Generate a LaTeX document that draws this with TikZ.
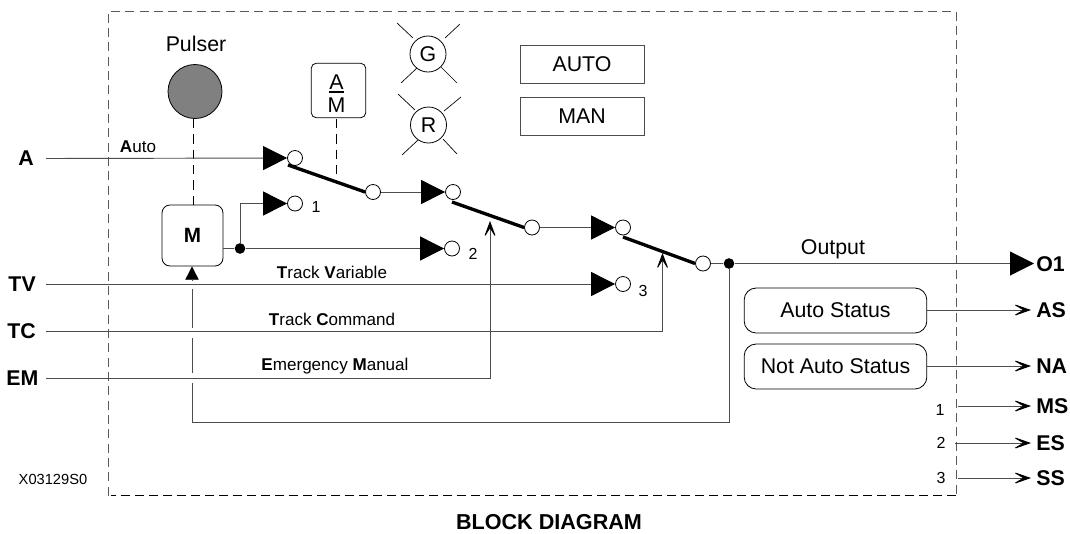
\documentclass[tikz,border=0pt]{standalone}
\usepackage{fontspec}
\setmainfont{Liberation Sans}
\usetikzlibrary{arrows.meta}
\newcommand{\fs}[1]{\fontsize{#1}{#1}\selectfont}
\definecolor{ln}{gray}{0.3}
\tikzset{
  wire/.style={draw=ln,line width=0.7pt},
  solid tri/.style={-{Triangle[length=18pt,width=18pt,color=black]}},
  barb/.style={-{Stealth[length=14pt,width=10.5pt,inset=8.5pt,color=black]}},
  contact/.style={circle,draw=black,fill=white,line width=0.6pt,minimum size=11.25pt,inner sep=0pt},
  dotnode/.style={circle,fill=black,minimum size=8pt,inner sep=0pt},
  blade/.style={draw=black,line width=2.5pt},
  big/.style={font=\fs{16}},
  mid/.style={font=\fs{12.8}},
  small/.style={font=\fs{12}},
  tiny/.style={font=\fs{11}},
  pin/.style={font=\bfseries\fs{16},inner sep=0pt},
  inlabel/.style={pin,anchor=east},
  outlabel/.style={pin,anchor=west,inner xsep=3.75pt},
  rbox/.style={draw=black,line width=0.6pt,rounded corners=#1,inner sep=0pt},
  rbox/.default=6pt,
  sqbox/.style={draw=ln,line width=0.7pt,inner sep=0pt,minimum width=93pt,minimum height=28.5pt,font=\fs{16}},
  lamp/.style={circle,draw=black,line width=0.6pt,minimum size=27pt,inner sep=0pt,font=\fs{16}},
  ray/.style={draw=black,line width=0.5pt},
  dashline/.style={draw=black,line width=0.6pt,dash pattern=on 7pt off 4.5pt},
  outbarb/.style={-{Stealth[length=15pt,width=10.5pt,inset=9pt,color=black]}},
}
\begin{document}
\begin{tikzpicture}[x=0.75pt,y=-0.75pt]
\useasboundingbox (0,0) rectangle (1070,533);
% frame
\draw[draw=black!65,line width=0.7pt,dash pattern=on 6.75pt off 4pt] (108,495.5) -- (108,11) -- (956,11) -- (956,495.5);
\draw[draw=black,line width=0.5pt,dash pattern=on 6.75pt off 3.75pt] (956,495.5) -- (111,495.5);

% labels, inputs
\node[inlabel,inner xsep=9pt] (A) at (46,158.5) {A};
\node[inlabel,inner xsep=7.5pt] (TV) at (46,284) {TV};
\node[inlabel,inner xsep=7.5pt] (TC) at (46,331.5) {TC};
\node[inlabel,inner xsep=5.5pt] (EM) at (46,378) {EM};

% pulser, M, A/M
\node[big] (pulserlabel) at (196,44) {Pulser};
\node[circle,draw=black,fill=black!50,line width=0.6pt,minimum size=40.5pt,inner sep=0pt] (pulser) at (195,91.5) {};
\node[rbox,minimum width=45.75pt,minimum height=45.75pt,font=\bfseries\fs{15.5}] (M) at (192.5,235.5) {M};
\node[rbox=4pt,minimum width=41pt,minimum height=41pt] (am) at (338.5,90.5) {};
\node[big,inner sep=0pt] (amA) at (336.5,82) {A};
\node[big,inner sep=0pt] (amM) at (336.5,105) {M};
\draw[draw=black,line width=1.5pt] (329,92) -- (344,92);

% lamps
\node[lamp] (G) at (428,54) {G};
\node[lamp] (R) at (428.5,125) {R};
\foreach \a/\b/\c/\d in {397/23/413/38,460/24/445/38,401/83/417/68,457/83/441/67,398/94/415/110,461/97/444/111,402/155/418/140,457/154/443/139}
  \draw[ray] (\a,\b) -- (\c,\d);
\node[sqbox] (auto) at (582,64) {AUTO};
\node[sqbox] (man) at (582,116) {MAN};

% contacts
\node[contact] (c1in) at (295,158) {};
\node[contact] (c1out) at (373,192) {};
\node[contact] (c2in) at (453,192) {};
\node[contact] (c2out) at (532,227.5) {};
\node[contact] (c3in) at (623,227.5) {};
\node[contact] (c3out) at (703,263.5) {};
\node[contact] (p1) at (295,203.5) {};
\node[contact] (p2) at (452,248.5) {};
\node[contact] (p3) at (623,284) {};
\node[small] (n1) at (316,207) {1};
\node[small] (n2) at (473,254) {2};
\node[small] (n3) at (643,291) {3};

% blades
\coordinate (b1) at (288,165);
\coordinate (b2) at (452,202);
\coordinate (b3) at (623,237);
\coordinate (t2) at (490,221);
\coordinate (t3) at (662.5,253);
\draw[blade] (b1) -- (c1out.west);
\draw[blade] (b2) -- (c2out.west);
\draw[blade] (b3) -- (c3out.west);

% dots
\node[dotnode] (d1) at (240,248.5) {};
\node[dotnode] (d2) at (729,263.5) {};

% dashed links
\coordinate (amlink) at (336,174);
\coordinate (pulserlink) at (193,119);
\coordinate (amtop) at (336,119);
\coordinate (mtop) at (193,205);
\draw[dashline] (pulserlink) -- (mtop);
\draw[dashline] (amtop) -- (amlink);

% wires
\draw[wire,solid tri] (A.east) -- (c1in.west);
\draw[wire,solid tri] (c1out.east) -- (c2in.west);
\draw[wire,solid tri] (c2out.east) -- (c3in.west);
\draw[wire] (c3out.east) -- (d2);
\draw[wire] (M.east |- d1) -- (d1);
\draw[wire,solid tri] (d1) -- (p2.west);
\draw[wire,solid tri] (d1) -- (d1 |- p1) -- (p1.west);
\draw[wire,solid tri] (TV.east) -- (p3.west);
\draw[wire,barb] (TC.east) -- (TC.east -| t3) -- (t3);
\draw[wire,barb] (EM.east) -- (EM.east -| t2) -- (t2);

% feedback
\coordinate (f1) at (192,383);
\coordinate (f2) at (192,373);
\coordinate (f3) at (192,338);
\coordinate (f4) at (192,328);
\coordinate (f5) at (192,289);
\coordinate (f6) at (192,280);
\draw[wire] (d2) -- (729,422) -- (192,422) -- (f1);
\draw[wire] (f2) -- (f3);
\draw[wire] (f4) -- (f5);
\draw[wire,-{Triangle[length=10pt,width=10pt,color=black]}] (f6) -- (M.south -| f6);

% outputs
\node[pin,anchor=west,inner xsep=1.5pt] (O1) at (1034,264.5) {O1};
\draw[wire,solid tri] (d2) -- (O1.west |- d2);
\node[big] (outlab) at (833,249.5) {Output};

\node[rbox=9pt,minimum width=137pt,minimum height=33.75pt,font=\fs{16}] (AS1) at (835.5,310.5) {Auto Status};
\node[rbox=9pt,minimum width=137pt,minimum height=33.75pt,font=\fs{16}] (NA1) at (835.5,366.5) {Not Auto Status};
\node[outlabel] (AS) at (1031,310) {AS};
\node[outlabel] (NA) at (1031,366) {NA};
\node[outlabel] (MS) at (1031,406) {MS};
\node[outlabel] (ES) at (1031,443) {ES};
\node[outlabel] (SS) at (1031,478) {SS};
\coordinate (m0) at (958,406);
\coordinate (e0) at (955,443);
\coordinate (s0) at (958,478);
\draw[wire,outbarb] (AS1.east |- AS) -- (AS.west);
\draw[wire,outbarb] (NA1.east |- NA) -- (NA.west);
\draw[wire,outbarb] (m0) -- (MS.west);
\draw[wire,outbarb] (e0) -- (ES.west);
\draw[wire,outbarb] (s0) -- (SS.west);
\node[small] (r1) at (940,410) {1};
\node[small] (r2) at (941,443) {2};
\node[small] (r3) at (941,478) {3};

% text labels
\node[mid] (autolabel) at (138,147) {\textbf{A}uto};
\node[mid] (tvl) at (332,272) {\textbf{T}rack \textbf{V}ariable};
\node[mid] (tcl) at (332,319) {\textbf{T}rack \textbf{C}ommand};
\node[mid] (eml) at (335,366) {\textbf{E}mergency \textbf{M}anual};
\node[tiny] (code) at (53,479) {X03129S0};
\node[font=\bfseries\fs{16.2}] (title) at (549,522) {BLOCK DIAGRAM};
\end{tikzpicture}
\end{document}
